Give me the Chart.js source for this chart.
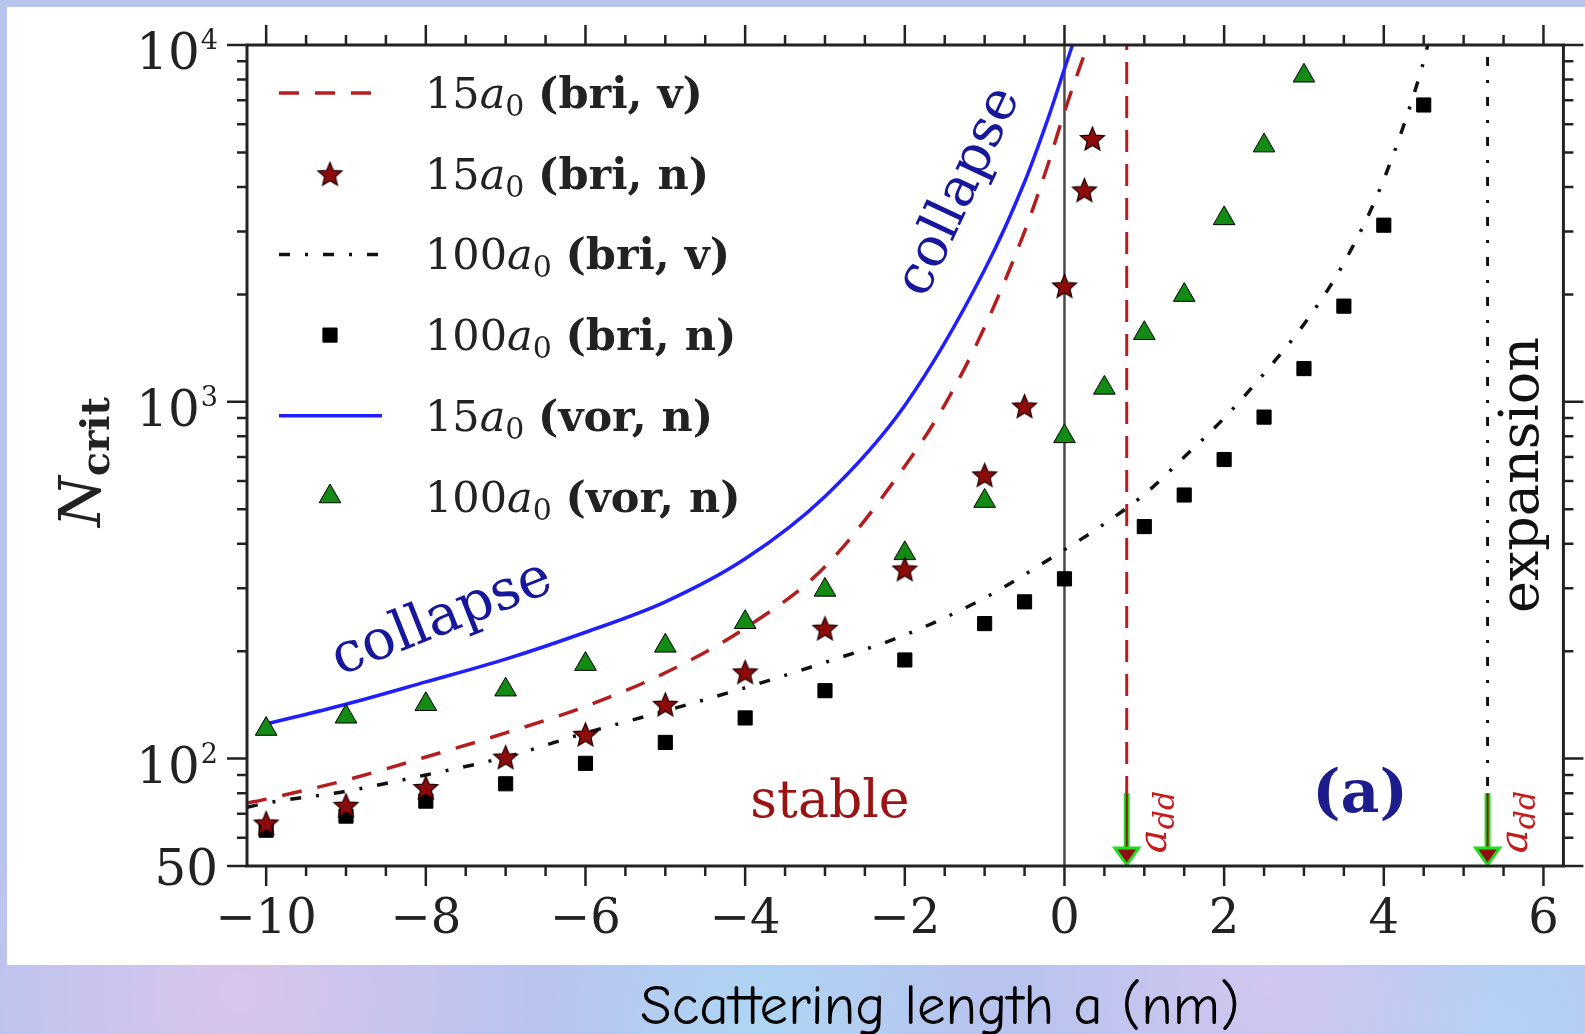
<!DOCTYPE html>
<html>
<head>
<meta charset="utf-8">
<script src="https://cdn.jsdelivr.net/npm/chart.js@4.4.0/dist/chart.umd.min.js"></script>
<style>
  html, body { margin: 0; padding: 0; }
  body {
    width: 1585px; height: 1034px; overflow: hidden;
    background-color: #b8c4ee;
    background-image:
      radial-gradient(circle at 15% 96%, rgba(232, 196, 236, 0.7), transparent 18%),
      radial-gradient(circle at 48% 99%, rgba(170, 222, 246, 0.7), transparent 16%),
      radial-gradient(circle at 80% 95%, rgba(226, 200, 240, 0.6), transparent 15%),
      radial-gradient(circle at 95% 99%, rgba(176, 220, 246, 0.6), transparent 12%);
  }
  #chart { position: absolute; left: 0; top: 0; }
</style>
</head>
<body>
<canvas id="chart" width="1585" height="1034"></canvas>
<script>
// axis ticks
const xTicks = [-10, -8, -6, -4, -2, 0, 2, 4, 6];
const yTickValues = [50, 100, 1000, 10000];
const yTickLabels = ['50', '10^2', '10^3', '10^4'];
const xTitle = 'Scattering length a (nm)';

// 15a0 (bri, v) - variational, dashed red
const briV15X = [-10.24, -10, -9, -8, -7, -6, -5, -4, -3, -2, -1.5, -1, -0.5, -0.2, 0, 0.29];
const briV15Y = [75, 77, 87, 101, 118, 140, 174, 232, 345, 660, 980, 1620, 3000, 4670, 6500, 10000];

// 15a0 (bri, n) - stars
const briN15X = [-10, -9, -8, -7, -6, -5, -4, -3, -2, -1, -0.5, 0, 0.25, 0.35];
const briN15Y = [66, 74, 83, 101, 117, 142, 175, 232, 340, 624, 973, 2113, 3926, 5470];

// 100a0 (bri, v) - dash-dot black
const briV100X = [-10.24, -10, -9, -8, -7, -6, -5, -4, -3, -2, -1, 0, 0.5, 1, 1.5, 2, 2.5, 3, 3.5, 4, 4.5, 4.55];
const briV100Y = [73, 75, 81, 90, 101, 118, 136, 158, 186, 222, 282, 385, 455, 550, 700, 900, 1200, 1650, 2450, 4200, 9000, 10000];

// 100a0 (bri, n) - squares
const briN100X = [-10, -9, -8, -7, -6, -5, -4, -3, -2, -1, -0.5, 0, 1, 1.5, 2, 2.5, 3, 3.5, 4, 4.5];
const briN100Y = [63, 69, 76, 85, 97, 111, 130, 155, 189, 239, 275, 319, 447, 548, 689, 906, 1239, 1854, 3126, 6790];

// 15a0 (vor, n) - solid blue
const vorN15X = [-10, -9, -8, -7, -6, -5, -4, -3, -2, -1, -0.5, -0.2, 0, 0.1];
const vorN15Y = [125, 142, 164, 190, 226, 275, 363, 543, 977, 2344, 4130, 6280, 8570, 10000];

// 100a0 (vor, n) - triangles
const vorN100X = [-10, -9, -8, -7, -6, -5, -4, -3, -2, -1, 0, 0.5, 1, 1.5, 2, 2.5, 3];
const vorN100Y = [121, 131, 142, 156, 184, 207, 241, 297, 376, 527, 800, 1094, 1556, 1991, 3266, 5224, 8200];

// a_dd positions (15a0, 100a0) and arrow start
const addX = [0.78, 5.3];
const arrowTopN = 80;
const yRange = [50, 10000];

const serif = "'DejaVu Serif', 'Liberation Serif', serif";

function pts(xs, ys) {
  return xs.map((x, i) => ({x: x, y: ys[i]}));
}

function makeStar(r, fill) {
  const c = document.createElement('canvas');
  const s = Math.ceil(2 * r + 4);
  c.width = c.height = s;
  const g = c.getContext('2d');
  g.translate(s / 2, s / 2 + r * 0.1);
  g.beginPath();
  for (let i = 0; i < 10; i++) {
    const rad = i % 2 ? r * 0.45 : r;
    const a = -Math.PI / 2 + i * Math.PI / 5;
    g.lineTo(rad * Math.cos(a), rad * Math.sin(a));
  }
  g.closePath();
  g.fillStyle = fill;
  g.fill();
  g.lineWidth = 1.3;
  g.strokeStyle = '#200';
  g.stroke();
  return c;
}
const starImg = makeStar(12.5, '#8e0b0b');

// text made of parts (roman / italic / bold / subscripts)
function richText(ctx, parts, x, y, angle, color) {
  ctx.save();
  ctx.translate(x, y);
  ctx.rotate(angle);
  ctx.fillStyle = color;
  ctx.textBaseline = 'alphabetic';
  ctx.textAlign = 'left';
  let w = 0;
  parts.forEach(p => { ctx.font = p.font; w += ctx.measureText(p.t).width; });
  let cx = -w / 2;
  parts.forEach(p => {
    ctx.font = p.font;
    ctx.fillText(p.t, cx, p.dy || 0);
    cx += ctx.measureText(p.t).width;
  });
  ctx.restore();
}

const panelPlugin = {
  id: 'panel',
  beforeDraw(chart) {
    const ctx = chart.ctx;
    ctx.save();
    ctx.fillStyle = '#ffffff';
    ctx.fillRect(7, 7, 1578, 958);
    ctx.restore();
  }
};

const decorPlugin = {
  id: 'decor',
  afterDraw(chart) {
    const {ctx, chartArea: a, scales: {x, y}} = chart;
    ctx.save();

    // arrows at a_dd
    const yTop = y.getPixelForValue(arrowTopN);
    addX.forEach(v => {
      const px = x.getPixelForValue(v);
      const tip = a.bottom;
      const head = 18;
      ctx.setLineDash([]);
      ctx.strokeStyle = '#22dd22';
      ctx.lineWidth = 6;
      ctx.beginPath();
      ctx.moveTo(px, yTop);
      ctx.lineTo(px, tip - head);
      ctx.stroke();
      ctx.strokeStyle = '#8e1010';
      ctx.lineWidth = 2;
      ctx.beginPath();
      ctx.moveTo(px, yTop);
      ctx.lineTo(px, tip - head);
      ctx.stroke();
      ctx.beginPath();
      ctx.moveTo(px - 12, tip - head);
      ctx.lineTo(px + 12, tip - head);
      ctx.lineTo(px, tip - 1);
      ctx.closePath();
      ctx.fillStyle = '#8e1010';
      ctx.fill();
      ctx.strokeStyle = '#22dd22';
      ctx.lineWidth = 3;
      ctx.stroke();
    });

    // frame and ticks
    ctx.strokeStyle = '#222';
    ctx.lineWidth = 3;
    ctx.strokeRect(a.left, a.top, a.right - a.left, a.bottom - a.top);
    ctx.lineWidth = 2.5;
    ctx.beginPath();
    for (let v = -10; v <= 6; v += 0.5) {
      const px = x.getPixelForValue(v);
      const len = v % 2 === 0 ? 20 : 10;
      ctx.moveTo(px, a.bottom); ctx.lineTo(px, a.bottom + len);
      ctx.moveTo(px, a.top); ctx.lineTo(px, a.top - len);
    }
    const yMinor = [];
    [10, 100, 1000].forEach(d => { for (let k = 2; k <= 9; k++) yMinor.push(k * d); });
    yMinor.concat(yTickValues).forEach(v => {
      if (v < yRange[0] || v > yRange[1]) return;
      const py = y.getPixelForValue(v);
      const len = yTickValues.includes(v) ? 20 : 10;
      ctx.moveTo(a.left, py); ctx.lineTo(a.left - len, py);
      ctx.moveTo(a.right, py); ctx.lineTo(a.right + len, py);
    });
    ctx.stroke();

    // y tick labels with superscripts
    ctx.fillStyle = '#222';
    ctx.textAlign = 'right';
    ctx.textBaseline = 'alphabetic';
    yTickValues.forEach((v, i) => {
      const py = y.getPixelForValue(v);
      const [base, exp] = yTickLabels[i].split('^');
      const right = 218;
      if (exp) {
        ctx.font = '27px ' + serif;
        ctx.fillText(exp, right, py + 4);
        const ew = ctx.measureText(exp).width;
        ctx.font = '50px ' + serif;
        ctx.fillText(base, right - ew - 1, py + 24);
      } else {
        ctx.font = '50px ' + serif;
        ctx.fillText(base, right, py + 19);
      }
    });

    // y axis title N_crit
    richText(ctx, [
      {t: 'N', font: 'italic 58px ' + serif},
      {t: 'crit', font: 'bold 40px ' + serif, dy: 9}
    ], 100, 462, -Math.PI / 2, '#222');

    // x axis title, on the page background below the panel
    richText(ctx, [{t: xTitle, font: "57px 'Comic Sans MS', 'Comic Neue', Lato, sans-serif"}], 940, 1024, 0, '#000');

    // region annotations
    richText(ctx, [{t: 'collapse', font: '56px ' + serif}], 442 + 15 * Math.sin(0.377), 619 + 15 * Math.cos(0.377), -0.377, '#17179c');
    richText(ctx, [{t: 'collapse', font: '54px ' + serif}], 960 + 14 * Math.sin(1.134), 192 + 14 * Math.cos(1.134), -1.134, '#17179c');
    richText(ctx, [{t: 'stable', font: '52px ' + serif}], 830, 817, 0, '#9b1414');
    richText(ctx, [{t: '(a)', font: 'bold 60px ' + serif}], 1360, 812, 0, '#1c1c8c');
    richText(ctx, [{t: 'expansion', font: '54px ' + serif}], 1538, 475, -Math.PI / 2, '#111');
    addX.forEach(v => {
      const px = x.getPixelForValue(v);
      richText(ctx, [
        {t: 'a', font: 'italic 40px ' + serif},
        {t: 'dd', font: 'italic 30px ' + serif, dy: 8}
      ], px + 39, 822, -Math.PI / 2, '#c21d1d');
    });

    // legend
    chart.data.datasets.forEach(ds => {
      if (ds.legendRow === undefined) return;
      const cy = 93 + 80.7 * ds.legendRow;
      if (ds.showLine) {
        ctx.setLineDash(ds.borderDash || []);
        ctx.strokeStyle = ds.borderColor;
        ctx.lineWidth = ds.borderWidth;
        ctx.beginPath();
        ctx.moveTo(279, cy);
        ctx.lineTo(382, cy);
        ctx.stroke();
        ctx.setLineDash([]);
      } else {
        ctx.fillStyle = ds.backgroundColor || '#000';
        ctx.strokeStyle = ds.borderColor || '#000';
        ctx.lineWidth = ds.borderWidth || 1;
        Chart.helpers.drawPoint(ctx, {pointStyle: ds.pointStyle, radius: ds.pointRadius, rotation: 0, borderWidth: ds.borderWidth || 1}, 330, cy);
      }
      const m = /^(\d+)a0 (.*)$/.exec(ds.label);
      let tx = 425;
      const parts = [
        {t: m[1], font: '43px ' + serif},
        {t: 'a', font: 'italic 43px ' + serif},
        {t: '0', font: '30px ' + serif, dy: 8},
        {t: ' ', font: '43px ' + serif},
        {t: m[2], font: 'bold 43px ' + serif}
      ];
      ctx.fillStyle = '#222';
      ctx.textAlign = 'left';
      ctx.textBaseline = 'alphabetic';
      parts.forEach(p => {
        ctx.font = p.font;
        ctx.fillText(p.t, tx, cy + 15 + (p.dy || 0));
        tx += ctx.measureText(p.t).width;
      });
    });

    ctx.restore();
  }
};

new Chart(document.getElementById('chart'), {
  type: 'scatter',
  data: {
    datasets: [
      {
        label: '15a0 (bri, v)',
        data: pts(briV15X, briV15Y),
        showLine: true,
        borderColor: '#b51e1e',
        borderWidth: 3.5,
        borderDash: [20, 16],
        pointRadius: 0,
        cubicInterpolationMode: 'monotone',
        order: 2,
        legendRow: 0
      },
      {
        label: '15a0 (bri, n)',
        data: pts(briN15X, briN15Y),
        pointStyle: starImg,
        pointRadius: 12,
        order: 0,
        legendRow: 1
      },
      {
        label: '100a0 (bri, v)',
        data: pts(briV100X, briV100Y),
        showLine: true,
        borderColor: '#111111',
        borderWidth: 3.5,
        borderDash: [11, 15, 3, 15],
        pointRadius: 0,
        cubicInterpolationMode: 'monotone',
        order: 2,
        legendRow: 2
      },
      {
        label: '100a0 (bri, n)',
        data: pts(briN100X, briN100Y),
        pointStyle: 'rect',
        pointRadius: 10,
        backgroundColor: '#000000',
        borderColor: '#000000',
        borderWidth: 1,
        order: 0,
        legendRow: 3
      },
      {
        label: '15a0 (vor, n)',
        data: pts(vorN15X, vorN15Y),
        showLine: true,
        borderColor: '#1f1fff',
        borderWidth: 3.5,
        pointRadius: 0,
        cubicInterpolationMode: 'monotone',
        order: 2,
        legendRow: 4
      },
      {
        label: '100a0 (vor, n)',
        data: pts(vorN100X, vorN100Y),
        pointStyle: 'triangle',
        pointRadius: 12.5,
        backgroundColor: '#138a13',
        borderColor: '#000000',
        borderWidth: 1,
        order: 0,
        legendRow: 5
      },
      {
        label: 'a = 0',
        data: [{x: 0, y: yRange[0]}, {x: 0, y: yRange[1]}],
        showLine: true,
        borderColor: '#4a4a4a',
        borderWidth: 2.5,
        pointRadius: 0,
        order: 5
      },
      {
        label: 'a_dd 15a0',
        data: [{x: addX[0], y: yRange[0]}, {x: addX[0], y: yRange[1]}],
        showLine: true,
        borderColor: '#b51e1e',
        borderWidth: 3,
        borderDash: [22, 12],
        pointRadius: 0,
        order: 4
      },
      {
        label: 'a_dd 100a0',
        data: [{x: addX[1], y: yRange[0]}, {x: addX[1], y: yRange[1]}],
        showLine: true,
        borderColor: '#111111',
        borderWidth: 3,
        borderDash: [9, 14, 3, 14],
        pointRadius: 0,
        order: 4
      }
    ]
  },
  options: {
    responsive: false,
    animation: false,
    devicePixelRatio: 1,
    events: [],
    layout: { padding: { left: 0, top: 45, right: 18, bottom: 0 } },
    plugins: {
      legend: { display: false },
      tooltip: { enabled: false }
    },
    scales: {
      x: {
        type: 'linear',
        min: -10.24,
        max: 6.25,
        afterBuildTicks: s => { s.ticks = xTicks.map(v => ({value: v})); },
        afterFit: s => { s.height = 168; },
        grid: { display: false, drawTicks: false },
        border: { display: false },
        ticks: {
          padding: 26,
          color: '#222',
          font: { family: serif, size: 48 },
          maxRotation: 0,
          autoSkip: false,
          callback: v => v < 0 ? '\u2212' + (-v) : String(v)
        }
      },
      y: {
        type: 'logarithmic',
        min: yRange[0],
        max: yRange[1],
        afterFit: s => { s.width = 247; },
        grid: { display: false, drawTicks: false },
        border: { display: false },
        ticks: { display: false }
      }
    }
  },
  plugins: [panelPlugin, decorPlugin]
});
</script>
</body>
</html>
